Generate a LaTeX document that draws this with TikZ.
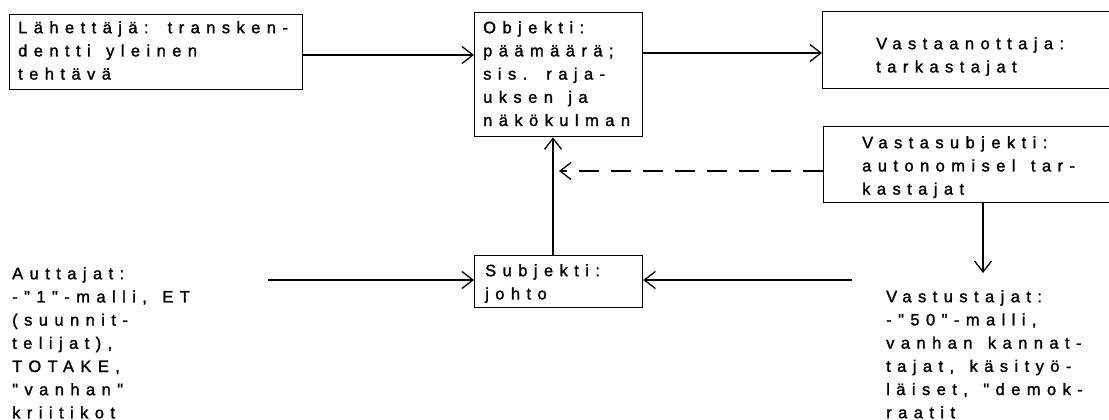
\documentclass[tikz,border=0pt]{standalone}
\usepackage{fontspec}
\setmainfont{Liberation Sans}
\newfontfamily\spacedfont[LetterSpace=39,WordSpace=1.4,FakeBold=1.5]{Liberation Sans}
\usetikzlibrary{arrows.meta}
\newcommand{\fl}{\rule{0pt}{14pt}}
\begin{document}
\begin{tikzpicture}[x=1pt,y=-1pt,
  box/.style={draw, line width=1.3pt, inner sep=0pt, anchor=north west},
  txt/.style={anchor=north west, inner sep=0pt, align=left,
    font=\spacedfont\fontsize{16.5}{23.2}\selectfont},
  arr/.style={line width=1.3pt, -{Straight Barb[length=11pt,width=17pt,line width=1.3pt]}},
  darr/.style={arr, dash pattern=on 20pt off 12pt},
]
\useasboundingbox (0,0) rectangle (1109,420);
\clip (0,0) rectangle (1109,420);
% boxes
\node[box, minimum width=293pt, minimum height=75pt] (send) at (9,14) {};
\node[box, minimum width=168pt, minimum height=124pt] (obj) at (474,12) {};
\node[box, minimum width=300pt, minimum height=77pt] (recv) at (822,11) {};
\node[box, minimum width=300pt, minimum height=76pt] (vsub) at (823,126) {};
\node[box, minimum width=168pt, minimum height=52pt] (subj) at (474,255) {};
% texts
\node[txt] (sendt) at (18,19) {\fl Lähettäjä: transken-\\dentti yleinen\\tehtävä};
\node[txt] (objt) at (483,19) {\fl Objekti:\\päämäärä;\\sis. raja-\\uksen ja\\näkökulman};
\node[txt] (recvt) at (876,35) {\fl Vastaanottaja:\\tarkastajat};
\node[txt] (vsubt) at (862,134) {\fl Vastasubjekti:\\autonomisel tar-\\kastajat};
\node[txt] (subjt) at (485,262) {\fl Subjekti:\\johto};
\node[txt] (aut) at (12,265) {\fl Auttajat:\\-"1"-malli, ET\\(suunnit-\\telijat),\\TOTAKE,\\"vanhan"\\kriitikot};
\node[txt] (vast) at (886,288) {\fl Vastustajat:\\-"50"-malli,\\vanhan kannat-\\tajat, käsityö-\\läiset, "demok-\\raatit};
% free ends
\coordinate (dtip) at (559,171);
\coordinate (autend) at (268,280);
\coordinate (vastend) at (852,280);
\coordinate (downtip) at (983,273);
% connectors
\draw[arr] (send.east |- 0,55) -- (obj.west |- 0,55);
\draw[arr] (obj.east |- 0,53) -- (recv.west |- 0,53);
\draw[arr] (subj.north -| 553,0) -- (obj.south -| 553,0);
\draw[darr] (vsub.west |- dtip) -- (dtip);
\draw[arr] (vsub.south -| downtip) -- (downtip);
\draw[arr] (autend) -- (subj.west |- autend);
\draw[arr] (vastend) -- (subj.east |- vastend);
\end{tikzpicture}
\end{document}
